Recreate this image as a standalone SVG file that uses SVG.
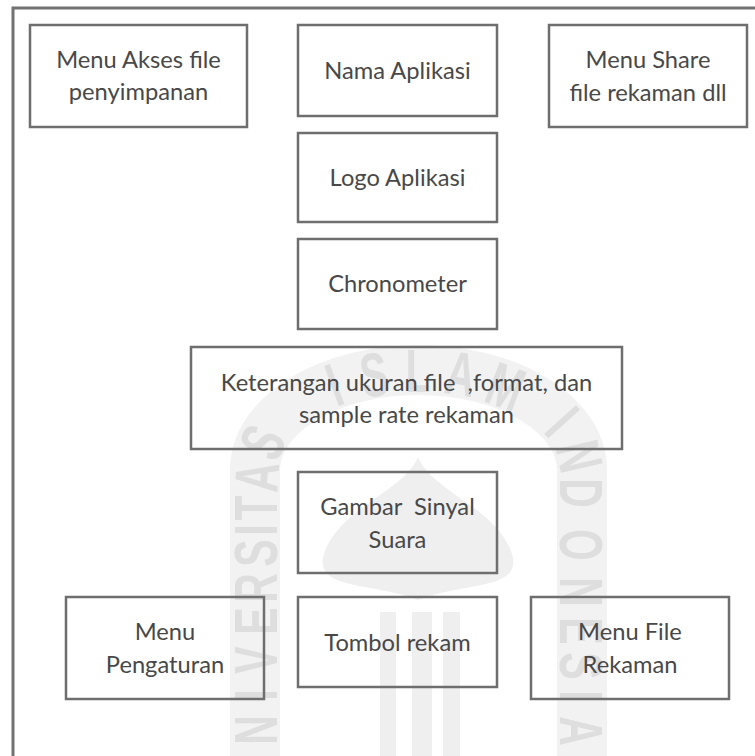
<svg xmlns="http://www.w3.org/2000/svg" width="755" height="756" viewBox="0 0 755 756">
  <style>
    .box { fill: none; stroke: #6e6e6e; stroke-width: 2.5; }
    .frame { fill: none; stroke: #727272; stroke-width: 3; }
    .lbl { font-family: Lato, "Open Sans", "Liberation Sans", sans-serif; font-size: 23.7px; fill: #484848; text-anchor: middle; white-space: pre; }
    .wm-band { fill: none; stroke: #f2f2f2; stroke-width: 50; }
    .wm { font-family: "Liberation Sans", "DejaVu Sans", sans-serif; font-weight: bold; font-size: 62px; fill: #dedede; text-anchor: middle; }
    .wm-shape { fill: #efefef; }
  </style>

  <rect width="755" height="756" fill="#ffffff"/>

  <!-- faint background emblem: lettered arch, dome and pillars -->
  <g id="emblem">
    <path class="wm-band" d="M255,800 L255,470 A163.5,100 0 0 1 582,470 L582,800"/>
    <g class="wm">
      <!-- left side, reading upward -->
      <text transform="translate(255,730) rotate(-90) scale(0.66,1)" dy=".36em">N</text>
      <text transform="translate(255,695) rotate(-90) scale(0.66,1)" dy=".36em">I</text>
      <text transform="translate(255,660) rotate(-90) scale(0.66,1)" dy=".36em">V</text>
      <text transform="translate(255,621) rotate(-90) scale(0.66,1)" dy=".36em">E</text>
      <text transform="translate(255,588) rotate(-90) scale(0.66,1)" dy=".36em">R</text>
      <text transform="translate(255,553) rotate(-90) scale(0.66,1)" dy=".36em">S</text>
      <text transform="translate(255,530) rotate(-90) scale(0.66,1)" dy=".36em">I</text>
      <text transform="translate(255,508) rotate(-90) scale(0.66,1)" dy=".36em">T</text>
      <text transform="translate(256,477) rotate(-86) scale(0.66,1)" dy=".36em">A</text>
      <text transform="translate(262,442) rotate(-64) scale(0.66,1)" dy=".36em">S</text>
      <!-- top arc -->
      <text transform="translate(334,384) rotate(-20) scale(0.66,1)" dy=".36em">I</text>
      <text transform="translate(374,374) rotate(-9) scale(0.66,1)" dy=".36em">S</text>
      <text transform="translate(418,370) scale(0.66,1)" dy=".36em">L</text>
      <text transform="translate(461,373) rotate(9) scale(0.66,1)" dy=".36em">A</text>
      <text transform="translate(506,386) rotate(21) scale(0.66,1)" dy=".36em">M</text>
      <!-- right side, reading downward -->
      <text transform="translate(563,421) rotate(48) scale(0.66,1)" dy=".36em">I</text>
      <text transform="translate(580,456) rotate(77) scale(0.66,1)" dy=".36em">N</text>
      <text transform="translate(582,493) rotate(90) scale(0.66,1)" dy=".36em">D</text>
      <text transform="translate(582,545) rotate(90) scale(0.66,1)" dy=".36em">O</text>
      <text transform="translate(582,592) rotate(90) scale(0.66,1)" dy=".36em">N</text>
      <text transform="translate(582,631) rotate(90) scale(0.66,1)" dy=".36em">E</text>
      <text transform="translate(582,666) rotate(90) scale(0.66,1)" dy=".36em">S</text>
      <text transform="translate(582,696) rotate(90) scale(0.66,1)" dy=".36em">I</text>
      <text transform="translate(582,731) rotate(90) scale(0.66,1)" dy=".36em">A</text>
    </g>
    <path class="wm-shape" d="M418,457 C404,492 334,510 323,558 C318,590 372,582 418,600 C464,582 518,590 513,558 C502,510 432,492 418,457 Z"/>
    <rect class="wm-shape" x="380" y="612" width="16" height="150"/>
    <rect class="wm-shape" x="412" y="612" width="20" height="150"/>
    <rect class="wm-shape" x="443" y="612" width="17" height="150"/>
  </g>

  <!-- screen outline -->
  <rect class="frame" x="13" y="8" width="800" height="800"/>

  <g id="connectors"/>

  <g id="menu-akses">
    <rect class="box" x="30" y="25" width="217" height="102"/>
    <text class="lbl" x="138.5" y="68">Menu Akses file</text>
    <text class="lbl" x="138.5" y="100">penyimpanan</text>
  </g>

  <g id="nama-aplikasi">
    <rect class="box" x="298" y="25" width="199" height="91"/>
    <text class="lbl" x="397.5" y="79">Nama Aplikasi</text>
  </g>

  <g id="menu-share">
    <rect class="box" x="549" y="25" width="198" height="102"/>
    <text class="lbl" x="648" y="68">Menu Share</text>
    <text class="lbl" x="648" y="101">file rekaman dll</text>
  </g>

  <g id="logo-aplikasi">
    <rect class="box" x="298" y="133" width="199" height="89"/>
    <text class="lbl" x="397.5" y="186">Logo Aplikasi</text>
  </g>

  <g id="chronometer">
    <rect class="box" x="298" y="239" width="199" height="90"/>
    <text class="lbl" x="397.5" y="292">Chronometer</text>
  </g>

  <g id="keterangan">
    <rect class="box" x="191" y="347" width="431" height="102"/>
    <text class="lbl" x="406.5" y="391">Keterangan ukuran file  ,format, dan</text>
    <text class="lbl" x="406.5" y="423">sample rate rekaman</text>
  </g>

  <g id="gambar-sinyal">
    <rect class="box" x="298" y="472" width="199" height="101"/>
    <text class="lbl" x="397.5" y="515">Gambar  Sinyal</text>
    <text class="lbl" x="397.5" y="548">Suara</text>
  </g>

  <g id="tombol-rekam">
    <rect class="box" x="298" y="597" width="199" height="90"/>
    <text class="lbl" x="397.5" y="651">Tombol rekam</text>
  </g>

  <g id="menu-pengaturan">
    <rect class="box" x="66" y="597" width="198" height="102"/>
    <text class="lbl" x="165" y="640">Menu</text>
    <text class="lbl" x="165" y="673">Pengaturan</text>
  </g>

  <g id="menu-file-rekaman">
    <rect class="box" x="531" y="597" width="198" height="102"/>
    <text class="lbl" x="630" y="640">Menu File</text>
    <text class="lbl" x="630" y="673">Rekaman</text>
  </g>
</svg>
